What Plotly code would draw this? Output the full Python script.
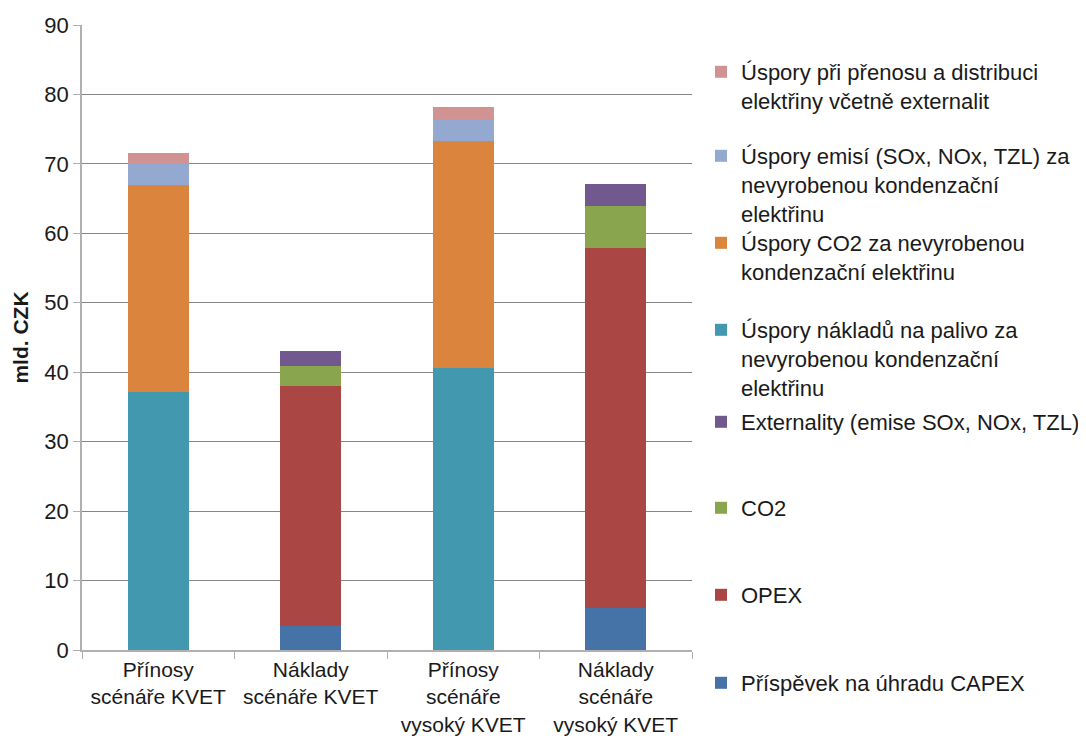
import plotly.graph_objects as go

# ---------------- data ----------------
categories = [
    "Přínosy<br>scénáře KVET",
    "Náklady<br>scénáře KVET",
    "Přínosy<br>scénáře<br>vysoký KVET",
    "Náklady<br>scénáře<br>vysoký KVET",
]

capex = [None, 3.4, None, 6.0]
opex = [None, 34.6, None, 51.9]
co2 = [None, 2.9, None, 6.0]
externality = [None, 2.2, None, 3.2]
uspory_palivo = [37.2, None, 40.6, None]
uspory_co2 = [29.8, None, 32.7, None]
uspory_emisi = [3.0, None, 3.2, None]
uspory_prenos = [1.6, None, 1.7, None]

series_names = [
    "Příspěvek na úhradu CAPEX",
    "OPEX",
    "CO2",
    "Externality (emise SOx, NOx, TZL)",
    "Úspory nákladů na palivo za<br>nevyrobenou kondenzační<br>elektřinu",
    "Úspory CO2 za nevyrobenou<br>kondenzační elektřinu",
    "Úspory emisí (SOx, NOx, TZL) za<br>nevyrobenou kondenzační<br>elektřinu",
    "Úspory při přenosu a distribuci<br>elektřiny včetně externalit",
]
series_values = [capex, opex, co2, externality,
                 uspory_palivo, uspory_co2, uspory_emisi, uspory_prenos]
series_colors = ["#4572A7", "#AA4643", "#89A54E", "#71588F",
                 "#4198AF", "#DB843D", "#93A9CF", "#D19392"]

y_ticks = [0, 10, 20, 30, 40, 50, 60, 70, 80, 90]

# ---------------- layout geometry ----------------
# the page body has an 8px margin, so the figure is drawn offset by 8px
OFF = 8
W, H = 1086 - OFF, 738 - OFF
PLOT_L, PLOT_R, PLOT_T, PLOT_B = 82, 692, 25, 650   # page pixels of plot area
ML, MT = PLOT_L - OFF, PLOT_T - OFF
MR, MB = OFF + W - PLOT_R, OFF + H - PLOT_B
PW, PH = PLOT_R - PLOT_L, PLOT_B - PLOT_T

def paper_y(pix):
    return (PLOT_B - pix) / PH

def paper_x(pix):
    return (pix - PLOT_L) / PW

FONT = "Liberation Sans, Arial, sans-serif"
TXT = "#1a1a1a"

# top page pixel of each legend entry, bottom-of-stack series first
legend_top_px = [662, 574, 487, 401, 309, 222, 135, 51]

fig = go.Figure()
layout_legends = {}
for i, (name, vals, col) in enumerate(zip(series_names, series_values, series_colors)):
    key = "legend" if i == 0 else f"legend{i+1}"
    fig.add_trace(go.Bar(
        x=categories, y=vals, name=name,
        marker=dict(color=col, line=dict(width=0)),
        legend=key,
    ))
    layout_legends[key] = dict(
        x=paper_x(701), xanchor="left",
        y=paper_y(legend_top_px[i]), yanchor="top",
        bgcolor="rgba(0,0,0,0)",
        font=dict(family=FONT, size=22, color=TXT),
        valign="top",
        itemclick=False, itemdoubleclick=False,
    )

fig.update_layout(
    width=W, height=H,
    margin=dict(l=ML, r=MR, t=MT, b=MB, autoexpand=False),
    paper_bgcolor="white", plot_bgcolor="white",
    barmode="stack", bargap=0.6,
    showlegend=True,
    font=dict(family=FONT, size=22, color=TXT),
    **layout_legends,
)

fig.update_yaxes(
    range=[0, 90], tickvals=y_ticks,
    showgrid=True, gridcolor="#868686", gridwidth=1,
    showline=True, linecolor="#b0b0b0", linewidth=1.5,
    ticks="outside", ticklen=7, tickcolor="#b0b0b0",
    tickfont=dict(family=FONT, size=22, color=TXT),
    title=dict(text="<b>mld. CZK</b>", font=dict(family=FONT, size=21, color=TXT), standoff=10),
    zeroline=False,
)
fig.update_xaxes(
    showline=True, linecolor="#b0b0b0", linewidth=1.5,
    ticks="outside", ticklen=7, tickcolor="#b0b0b0", tickson="boundaries",
    tickfont=dict(family=FONT, size=21, color=TXT),
)

fig.write_html("out.html")
